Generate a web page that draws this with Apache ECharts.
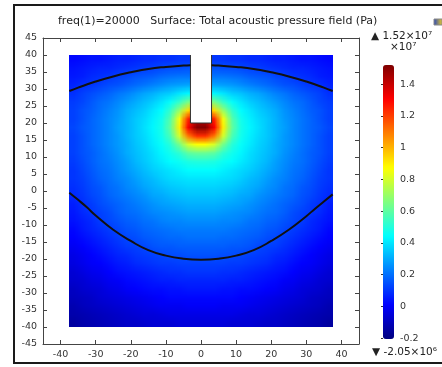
<!DOCTYPE html>
<html><head><meta charset="utf-8">
<script src="https://cdn.jsdelivr.net/npm/echarts@6/dist/echarts.min.js"></script>
<style>html,body{margin:0;padding:0;background:#fff}#c{width:442px;height:367px}</style>
</head><body><div id="c"></div>
<script>
// Cell centres of the sampled field (mm)
const xCells = [-36.25,-33.75,-31.25,-28.75,-26.25,-23.75,-21.25,-18.75,-16.25,-13.75,-11.25,-8.75,-6.25,-3.75,-1.25,1.25,3.75,6.25,8.75,11.25,13.75,16.25,18.75,21.25,23.75,26.25,28.75,31.25,33.75,36.25];
const yCells = [38.75,36.25,33.75,31.25,28.75,26.25,23.75,21.25,18.75,16.25,13.75,11.25,8.75,6.25,3.75,1.25,-1.25,-3.75,-6.25,-8.75,-11.25,-13.75,-16.25,-18.75,-21.25,-23.75,-26.25,-28.75,-31.25,-33.75,-36.25,-38.75];
// Total acoustic pressure field, units of 1e7 Pa (rows top -> bottom, columns left -> right)
const pressure = [
[0.02,0.03,0.04,0.04,0.05,0.06,0.06,0.07,0.08,0.08,0.09,0.09,0.10,0.10,0.10,0.10,0.10,0.10,0.09,0.09,0.08,0.08,0.07,0.06,0.06,0.05,0.04,0.04,0.03,0.02],
[0.04,0.05,0.06,0.07,0.07,0.08,0.09,0.10,0.11,0.12,0.13,0.14,0.14,0.15,0.15,0.15,0.15,0.14,0.14,0.13,0.12,0.11,0.10,0.09,0.08,0.07,0.07,0.06,0.05,0.04],
[0.05,0.06,0.08,0.09,0.10,0.12,0.13,0.15,0.16,0.17,0.19,0.20,0.21,0.21,0.21,0.21,0.21,0.21,0.20,0.19,0.17,0.16,0.15,0.13,0.12,0.10,0.09,0.08,0.06,0.05],
[0.07,0.09,0.10,0.12,0.14,0.15,0.17,0.19,0.21,0.23,0.25,0.27,0.28,0.29,0.30,0.30,0.29,0.28,0.27,0.25,0.23,0.21,0.19,0.17,0.15,0.14,0.12,0.10,0.09,0.07],
[0.09,0.12,0.14,0.16,0.18,0.21,0.23,0.26,0.29,0.31,0.34,0.36,0.40,0.43,0.45,0.45,0.43,0.40,0.36,0.34,0.31,0.29,0.26,0.23,0.21,0.18,0.16,0.14,0.12,0.09],
[0.11,0.13,0.16,0.19,0.21,0.24,0.27,0.30,0.33,0.36,0.40,0.45,0.53,0.64,0.68,0.68,0.64,0.53,0.45,0.40,0.36,0.33,0.30,0.27,0.24,0.21,0.19,0.16,0.13,0.11],
[0.12,0.15,0.17,0.20,0.23,0.26,0.30,0.33,0.36,0.40,0.44,0.53,0.70,0.93,1.04,1.04,0.93,0.70,0.53,0.44,0.40,0.36,0.33,0.30,0.26,0.23,0.20,0.17,0.15,0.12],
[0.12,0.15,0.18,0.21,0.24,0.27,0.31,0.35,0.38,0.42,0.47,0.59,0.86,1.24,1.41,1.41,1.24,0.86,0.59,0.47,0.42,0.38,0.35,0.31,0.27,0.24,0.21,0.18,0.15,0.12],
[0.13,0.16,0.18,0.21,0.24,0.28,0.31,0.35,0.39,0.43,0.48,0.61,0.90,1.31,1.51,1.51,1.31,0.90,0.61,0.48,0.43,0.39,0.35,0.31,0.28,0.24,0.21,0.18,0.16,0.13],
[0.12,0.15,0.18,0.21,0.24,0.27,0.31,0.35,0.38,0.42,0.47,0.57,0.80,1.10,1.23,1.23,1.10,0.80,0.57,0.47,0.42,0.38,0.35,0.31,0.27,0.24,0.21,0.18,0.15,0.12],
[0.12,0.15,0.18,0.21,0.24,0.27,0.30,0.34,0.37,0.41,0.45,0.51,0.64,0.80,0.87,0.87,0.80,0.64,0.51,0.45,0.41,0.37,0.34,0.30,0.27,0.24,0.21,0.18,0.15,0.12],
[0.12,0.15,0.17,0.20,0.23,0.26,0.30,0.33,0.36,0.39,0.43,0.47,0.52,0.60,0.62,0.62,0.60,0.52,0.47,0.43,0.39,0.36,0.33,0.30,0.26,0.23,0.20,0.17,0.15,0.12],
[0.11,0.14,0.17,0.20,0.22,0.25,0.28,0.32,0.35,0.38,0.41,0.44,0.46,0.49,0.50,0.50,0.49,0.46,0.44,0.41,0.38,0.35,0.32,0.28,0.25,0.22,0.20,0.17,0.14,0.11],
[0.10,0.13,0.16,0.19,0.21,0.24,0.27,0.30,0.33,0.36,0.38,0.40,0.42,0.44,0.44,0.44,0.44,0.42,0.40,0.38,0.36,0.33,0.30,0.27,0.24,0.21,0.19,0.16,0.13,0.10],
[0.10,0.12,0.15,0.18,0.20,0.23,0.25,0.28,0.31,0.33,0.36,0.38,0.39,0.40,0.40,0.40,0.40,0.39,0.38,0.36,0.33,0.31,0.28,0.25,0.23,0.20,0.18,0.15,0.12,0.10],
[0.09,0.11,0.14,0.16,0.19,0.21,0.24,0.26,0.29,0.31,0.33,0.35,0.36,0.37,0.37,0.37,0.37,0.36,0.35,0.33,0.31,0.29,0.26,0.24,0.21,0.19,0.16,0.14,0.11,0.09],
[0.08,0.10,0.13,0.15,0.18,0.20,0.22,0.24,0.26,0.29,0.30,0.32,0.33,0.34,0.34,0.34,0.34,0.33,0.32,0.30,0.29,0.26,0.24,0.22,0.20,0.18,0.15,0.13,0.10,0.08],
[0.06,0.09,0.11,0.14,0.16,0.18,0.20,0.22,0.24,0.26,0.28,0.29,0.30,0.31,0.31,0.31,0.31,0.30,0.29,0.28,0.26,0.24,0.22,0.20,0.18,0.16,0.14,0.11,0.09,0.06],
[0.05,0.08,0.10,0.12,0.14,0.17,0.19,0.20,0.22,0.24,0.25,0.26,0.27,0.28,0.28,0.28,0.28,0.27,0.26,0.25,0.24,0.22,0.20,0.19,0.17,0.14,0.12,0.10,0.08,0.05],
[0.04,0.06,0.08,0.11,0.13,0.15,0.17,0.18,0.20,0.21,0.23,0.24,0.24,0.25,0.25,0.25,0.25,0.24,0.24,0.23,0.21,0.20,0.18,0.17,0.15,0.13,0.11,0.08,0.06,0.04],
[0.02,0.05,0.07,0.09,0.11,0.13,0.15,0.16,0.18,0.19,0.20,0.21,0.22,0.22,0.22,0.22,0.22,0.22,0.21,0.20,0.19,0.18,0.16,0.15,0.13,0.11,0.09,0.07,0.05,0.02],
[0.01,0.03,0.05,0.07,0.09,0.11,0.13,0.14,0.16,0.17,0.18,0.19,0.19,0.20,0.20,0.20,0.20,0.19,0.19,0.18,0.17,0.16,0.14,0.13,0.11,0.09,0.07,0.05,0.03,0.01],
[-0.01,0.01,0.03,0.05,0.07,0.09,0.11,0.12,0.13,0.15,0.16,0.16,0.17,0.17,0.17,0.17,0.17,0.17,0.16,0.16,0.15,0.13,0.12,0.11,0.09,0.07,0.05,0.03,0.01,-0.01],
[-0.03,-0.01,0.01,0.03,0.05,0.07,0.08,0.10,0.11,0.12,0.13,0.14,0.14,0.15,0.15,0.15,0.15,0.14,0.14,0.13,0.12,0.11,0.10,0.08,0.07,0.05,0.03,0.01,-0.01,-0.03],
[-0.04,-0.02,0.00,0.01,0.03,0.05,0.06,0.08,0.09,0.10,0.11,0.11,0.12,0.12,0.12,0.12,0.12,0.12,0.11,0.11,0.10,0.09,0.08,0.06,0.05,0.03,0.01,0.00,-0.02,-0.04],
[-0.06,-0.04,-0.02,-0.01,0.01,0.03,0.04,0.05,0.06,0.07,0.08,0.09,0.09,0.10,0.10,0.10,0.10,0.09,0.09,0.08,0.07,0.06,0.05,0.04,0.03,0.01,-0.01,-0.02,-0.04,-0.06],
[-0.07,-0.06,-0.04,-0.03,-0.01,0.00,0.02,0.03,0.04,0.05,0.06,0.06,0.07,0.07,0.07,0.07,0.07,0.07,0.06,0.06,0.05,0.04,0.03,0.02,0.00,-0.01,-0.03,-0.04,-0.06,-0.07],
[-0.09,-0.07,-0.06,-0.05,-0.03,-0.02,0.00,0.01,0.02,0.03,0.03,0.04,0.04,0.05,0.05,0.05,0.05,0.04,0.04,0.03,0.03,0.02,0.01,0.00,-0.02,-0.03,-0.05,-0.06,-0.07,-0.09],
[-0.10,-0.09,-0.08,-0.06,-0.05,-0.04,-0.03,-0.02,-0.01,0.00,0.01,0.02,0.02,0.02,0.02,0.02,0.02,0.02,0.02,0.01,0.00,-0.01,-0.02,-0.03,-0.04,-0.05,-0.06,-0.08,-0.09,-0.10],
[-0.12,-0.10,-0.09,-0.08,-0.07,-0.06,-0.05,-0.04,-0.03,-0.02,-0.01,-0.01,-0.01,0.00,0.00,0.00,0.00,-0.01,-0.01,-0.01,-0.02,-0.03,-0.04,-0.05,-0.06,-0.07,-0.08,-0.09,-0.10,-0.12],
[-0.13,-0.12,-0.11,-0.10,-0.09,-0.08,-0.07,-0.06,-0.05,-0.05,-0.04,-0.03,-0.03,-0.03,-0.03,-0.03,-0.03,-0.03,-0.03,-0.04,-0.05,-0.05,-0.06,-0.07,-0.08,-0.09,-0.10,-0.11,-0.12,-0.13],
[-0.15,-0.13,-0.12,-0.11,-0.10,-0.09,-0.08,-0.08,-0.07,-0.06,-0.06,-0.06,-0.05,-0.05,-0.05,-0.05,-0.05,-0.05,-0.06,-0.06,-0.06,-0.07,-0.08,-0.08,-0.09,-0.10,-0.11,-0.12,-0.13,-0.15]
];
// Notch (transducer) cut out of the domain
const notchX = [-3, 3];
const notchY = [20, 40];
// Black contour lines
const contourUpperLeft = [[-37.5,29.4],[-35,30.4],[-30,32.2],[-25,33.7],[-20,34.9],[-15,35.9],[-10,36.5],[-5,36.9],[-3,37.0]];
const contourUpperRight = [[3,37.0],[5,36.9],[10,36.5],[15,35.9],[20,34.9],[25,33.7],[30,32.2],[35,30.4],[37.5,29.4]];
const contourLower = [[-37.5,-0.5],[-35,-2.6],[-32.5,-4.8],[-30,-7.2],[-25,-11.4],[-20,-14.7],[-15,-17.4],[-10,-19.0],[-5,-19.9],[0,-20.2],[5,-19.9],[10,-19.0],[15,-17.4],[20,-14.7],[25,-11.4],[30,-7.4],[32.5,-5.2],[35,-3.1],[37.5,-1.0]];
// Axis ticks
const xTicks = [-40,-30,-20,-10,0,10,20,30,40];
const cbTicks = [-0.2,0,0.2,0.4,0.6,0.8,1,1.2,1.4];
const cbMin = -0.205, cbMax = 1.52;

const nCols = xCells.length, nRows = yCells.length;
const cellW = xCells[1] - xCells[0];
const cellH = yCells[0] - yCells[1];
const heatData = [];
pressure.forEach((row, i) => row.forEach((v, j) => heatData.push([xCells[j], yCells[i], v])));

const jet = ['#00007f','#0000ff','#007fff','#00ffff','#7fff7f','#ffff00','#ff7f00','#ff0000','#7f0000'];
const FONT = 'DejaVu Sans';
const labelStyle = {color:'#333', fontSize:9.5, fontFamily:FONT};
const lineC = '#444';

// colours assigned to each cell by the visualMap (collected while the cells render)
const cellColors = [];
let fieldImage = null;

const chart = echarts.init(document.getElementById('c'), null, {renderer:'canvas'});

function baseOption(){
  return {
  animation:false,
  backgroundColor:'#fff',
  title:{text:'freq(1)=20000   Surface: Total acoustic pressure field (Pa)', left:53, top:11,
    textStyle:{fontSize:11, fontWeight:'normal', color:'#222', fontFamily:FONT}},
  grid:[
    {left:43, top:38, width:316, height:306},
    {left:383, top:65, width:11, height:274}
  ],
  xAxis:[
    {type:'value', gridIndex:0, min:-45, max:45, position:'bottom',
     axisLine:{onZero:false, lineStyle:{color:lineC}},
     axisTick:{inside:true, length:4, customValues:xTicks, lineStyle:{color:lineC}},
     axisLabel:Object.assign({customValues:xTicks, margin:6}, labelStyle),
     splitLine:{show:false}},
    {type:'value', gridIndex:0, min:-45, max:45, position:'top',
     axisLine:{onZero:false, lineStyle:{color:lineC}},
     axisTick:{inside:true, length:4, customValues:xTicks, lineStyle:{color:lineC}},
     axisLabel:{show:false}, splitLine:{show:false}},
    {type:'value', gridIndex:1, min:0, max:1, show:false}
  ],
  yAxis:[
    {type:'value', gridIndex:0, min:-45, max:45, interval:5, position:'left',
     axisLine:{onZero:false, lineStyle:{color:lineC}},
     axisTick:{inside:true, length:4, lineStyle:{color:lineC}},
     axisLabel:Object.assign({margin:6}, labelStyle),
     splitLine:{show:false}},
    {type:'value', gridIndex:0, min:-45, max:45, interval:5, position:'right',
     axisLine:{onZero:false, lineStyle:{color:lineC}},
     axisTick:{inside:true, length:4, lineStyle:{color:lineC}},
     axisLabel:{show:false}, splitLine:{show:false}},
    {type:'value', gridIndex:1, min:cbMin, max:cbMax, position:'right',
     axisLine:{show:false},
     axisTick:{show:true, inside:true, length:2, customValues:cbTicks, lineStyle:{color:'#333'}},
     axisLabel:Object.assign({customValues:cbTicks, margin:6, formatter:v=>String(+(+v).toFixed(1))}, labelStyle),
     splitLine:{show:false}}
  ],
  visualMap:{type:'continuous', min:cbMin, max:cbMax, dimension:2, seriesIndex:0,
    calculable:false, hoverLink:false, left:383, top:65, itemWidth:11, itemHeight:274, padding:0,
    inRange:{color:jet}},
  series:[
    {type:'custom', name:'pressure', xAxisIndex:0, yAxisIndex:0, data:heatData, silent:true, z:1,
     renderItem:(params, api)=>{
       const x = api.value(0), y = api.value(1);
       cellColors[params.dataIndex] = api.visual('color');
       const p0 = api.coord([x - cellW/2, y + cellH/2]);
       const p1 = api.coord([x + cellW/2, y - cellH/2]);
       const x0 = Math.floor(p0[0]), y0 = Math.floor(p0[1]);
       const x1 = Math.ceil(p1[0]), y1 = Math.ceil(p1[1]);
       return {type:'rect', shape:{x:x0, y:y0, width:x1-x0, height:y1-y0}, style:{fill:api.visual('color')}};
     }},
    {type:'custom', name:'field', xAxisIndex:0, yAxisIndex:0, silent:true, z:2,
     data:[[xCells[0]-cellW/2, yCells[0]+cellH/2, xCells[nCols-1]+cellW/2, yCells[nRows-1]-cellH/2]],
     renderItem:(params, api)=>{
       if (!fieldImage) return null;
       const a = api.coord([api.value(0), api.value(1)]);
       const b = api.coord([api.value(2), api.value(3)]);
       return {type:'image', style:{image:fieldImage, x:a[0], y:a[1], width:b[0]-a[0], height:b[1]-a[1]}};
     }},
    {type:'custom', name:'notch', xAxisIndex:0, yAxisIndex:0, silent:true, z:3,
     data:[[notchX[0], notchY[0], notchX[1], notchY[1]]],
     renderItem:(params, api)=>{
       const a = api.coord([api.value(0), api.value(3)]);
       const b = api.coord([api.value(0), api.value(1)]);
       const c = api.coord([api.value(2), api.value(1)]);
       const d = api.coord([api.value(2), api.value(3)]);
       return {type:'group', children:[
         {type:'polygon', shape:{points:[[a[0],a[1]-2],b,c,[d[0],d[1]-2]]}, style:{fill:'#fff'}},
         {type:'polyline', shape:{points:[a,b,c,d]}, style:{stroke:'#333', lineWidth:1, fill:null}}
       ]};
     }},
    {type:'line', xAxisIndex:0, yAxisIndex:0, data:contourUpperLeft, smooth:true, symbol:'none', silent:true, z:4,
     lineStyle:{color:'#111', width:2}},
    {type:'line', xAxisIndex:0, yAxisIndex:0, data:contourUpperRight, smooth:true, symbol:'none', silent:true, z:4,
     lineStyle:{color:'#111', width:2}},
    {type:'line', xAxisIndex:0, yAxisIndex:0, data:contourLower, smooth:true, symbol:'none', silent:true, z:4,
     lineStyle:{color:'#111', width:2}}
  ],
  graphic:[
    {type:'rect', shape:{x:14, y:5, width:440, height:358}, style:{fill:null, stroke:'#1a1a1a', lineWidth:2}, silent:true},
    {type:'text', x:371, y:31, style:{text:'▲ 1.52×10⁷', fontSize:10.5, fontFamily:FONT, fill:'#222'}},
    {type:'text', x:390, y:42, style:{text:'×10⁷', fontSize:10.5, fontFamily:FONT, fill:'#222'}},
    {type:'text', x:372, y:347, style:{text:'▼ -2.05×10⁶', fontSize:10.5, fontFamily:FONT, fill:'#222'}},
    {type:'rect', shape:{x:434, y:19, width:8, height:6}, style:{fill:new echarts.graphic.LinearGradient(0,0,1,0,[{offset:0,color:'#2040c0'},{offset:1,color:'#f0d020'}]), stroke:'#888', lineWidth:1}}
  ]
  };
}

function buildFieldImage(){
  // one pixel per data cell, coloured by the visualMap; the browser smooths it when scaled to the domain
  const cv = document.createElement('canvas');
  cv.width = nCols; cv.height = nRows;
  const ctx = cv.getContext('2d');
  for (let i = 0; i < heatData.length; i++) {
    ctx.fillStyle = cellColors[i];
    ctx.fillRect(i % nCols, Math.floor(i / nCols), 1, 1);
  }
  return cv;
}

chart.setOption(baseOption());
if (cellColors.length === heatData.length) {
  fieldImage = buildFieldImage();
  chart.setOption(baseOption(), true);
} else {
  chart.on('finished', function once(){
    chart.off('finished', once);
    fieldImage = buildFieldImage();
    chart.setOption(baseOption(), true);
  });
}
</script></body></html>
